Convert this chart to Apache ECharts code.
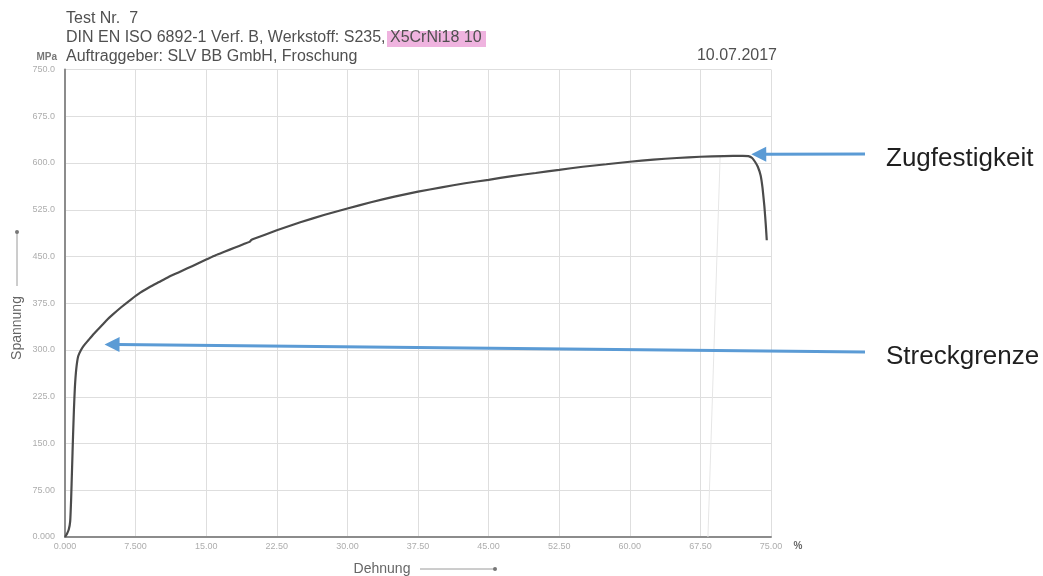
<!DOCTYPE html>
<html>
<head>
<meta charset="utf-8">
<script src="https://cdn.jsdelivr.net/npm/echarts@6/dist/echarts.min.js"></script>
<style>
  html, body { margin: 0; padding: 0; background: #ffffff; }
  #chart { width: 1043px; height: 576px; }
</style>
</head>
<body>
<div id="chart"></div>
<script>
// Zugversuch: Dehnung in %, Spannung in MPa
const strain = [0, 0.2, 0.4, 0.55, 0.65, 0.75, 0.85, 0.95, 1.05, 1.2, 1.4, 1.7, 2.0, 2.5, 3.0, 3.5, 4.0, 4.5, 5.0,
  6.0, 7.0, 8.0, 9.0, 10.0, 11.0, 12.0, 13.0, 14.0, 15.0, 16.0, 17.0, 18.0, 19.0, 19.6, 19.8, 20.0,
  22.5, 25.0, 27.5, 30.0, 32.5, 35.0, 37.5, 40.0, 42.5, 45.0, 47.5, 50.0, 52.5, 55.0, 57.5, 60.0,
  62.5, 65.0, 67.5, 70.0, 72.0, 72.6, 73.0, 73.3, 73.6, 73.9, 74.1, 74.3, 74.45, 74.55];
const stress = [0, 5, 12, 25, 60, 110, 160, 205, 240, 270, 290, 300, 307, 316, 325, 333, 341, 349, 356,
  369, 381, 392, 401, 409, 417, 424, 431, 438, 445, 452, 458, 464, 470, 473.5, 476.5, 478,
  492, 505, 516.5, 527, 537, 546, 554, 561, 567.5, 573, 579, 584, 589, 594, 598, 602,
  605.5, 608, 610, 611, 611.5, 611, 608, 602, 594, 580, 560, 530, 500, 476];

// schwache Entlastungsgerade
const unloadStrain = [68.3, 69.6];
const unloadStress = [0, 612];

// Achsenbeschriftung
const xTickLabels = ['0.000', '7.500', '15.00', '22.50', '30.00', '37.50', '45.00', '52.50', '60.00', '67.50', '75.00'];
const yTickLabels = ['0.000', '75.00', '150.0', '225.0', '300.0', '375.0', '450.0', '525.0', '600.0', '675.0', '750.0'];

// Kennwerte für die Pfeile (Dehnung %, Spannung MPa)
const tensileStrengthPoint = [72.9, 614];
const yieldPoint = [4.2, 309];

const FONT = '"Liberation Sans", Arial, sans-serif';
const chart = echarts.init(document.getElementById('chart'), null, { renderer: 'canvas' });

const curve = strain.map((x, i) => [x, stress[i]]);
const unload = unloadStrain.map((x, i) => [x, unloadStress[i]]);

chart.setOption({
  animation: false,
  backgroundColor: '#ffffff',
  grid: { left: 65, top: 69.5, right: 272, bottom: 39, containLabel: false },
  xAxis: {
    type: 'value', min: 0, max: 75, interval: 7.5,
    axisLine: { show: true, onZero: false, lineStyle: { color: '#8c8c8c', width: 2 } },
    axisTick: { show: false },
    splitLine: { show: true, lineStyle: { color: '#dedede', width: 1 } },
    axisLabel: {
      margin: 5, color: '#adadad', fontSize: 9, fontFamily: FONT,
      formatter: v => xTickLabels[Math.round(v / 7.5)]
    }
  },
  yAxis: {
    type: 'value', min: 0, max: 750, interval: 75,
    axisLine: { show: true, onZero: false, lineStyle: { color: '#8c8c8c', width: 2 } },
    axisTick: { show: false },
    splitLine: { show: true, lineStyle: { color: '#dedede', width: 1 } },
    axisLabel: {
      margin: 10, color: '#adadad', fontSize: 9, fontFamily: FONT,
      formatter: v => yTickLabels[Math.round(v / 75)]
    }
  },
  series: [
    {
      type: 'line', data: unload, showSymbol: false, silent: true,
      lineStyle: { color: '#e6e6e6', width: 1 }, z: 1
    },
    {
      type: 'line', data: curve, showSymbol: false, smooth: 0.15,
      lineStyle: { color: '#4b4b4b', width: 2.2 }, z: 3
    }
  ]
});

// Pfeil mit Spitze bei (tx, ty), vom Anfangspunkt (sx, sy) aus
function arrow(sx, sy, tx, ty) {
  const dx = tx - sx, dy = ty - sy;
  const len = Math.sqrt(dx * dx + dy * dy);
  const ux = dx / len, uy = dy / len;
  const headLen = 15, headHalf = 7.5;
  const bx = tx - ux * headLen, by = ty - uy * headLen;
  const blue = '#5b9bd5';
  return [
    { type: 'line', shape: { x1: sx, y1: sy, x2: bx + ux * 2, y2: by + uy * 2 },
      style: { stroke: blue, lineWidth: 3 }, z: 10 },
    { type: 'polygon',
      shape: { points: [[tx, ty], [bx - uy * headHalf, by + ux * headHalf], [bx + uy * headHalf, by - ux * headHalf]] },
      style: { fill: blue }, z: 10 }
  ];
}

const tsPx = chart.convertToPixel({ gridIndex: 0 }, tensileStrengthPoint);
const ypPx = chart.convertToPixel({ gridIndex: 0 }, yieldPoint);

const txt = (text, x, y, opts) => Object.assign({
  type: 'text',
  style: Object.assign({ text, x, y, fill: '#505050', font: '16px ' + FONT,
    textAlign: 'left', textVerticalAlign: 'middle' }, opts || {}),
  z: 20
});

chart.setOption({
  graphic: [
    txt('Test Nr.  7', 66, 19),
    { type: 'rect', shape: { x: 387, y: 31, width: 99, height: 16 },
      style: { fill: '#efb3df' }, z: 15 },
    txt('DIN EN ISO 6892-1 Verf. B, Werkstoff: S235, X5CrNi18 10', 66, 38),
    txt('Auftraggeber: SLV BB GmbH, Froschung', 66, 57),
    txt('10.07.2017', 777, 56, { textAlign: 'right' }),
    txt('MPa', 57, 57, { textAlign: 'right', font: 'bold 10px ' + FONT, fill: '#777777' }),
    txt('%', 798, 546, { textAlign: 'center', font: 'bold 10px ' + FONT, fill: '#666666' }),
    // Achsentitel
    txt('Dehnung', 382, 569, { textAlign: 'center', font: '14px ' + FONT, fill: '#666666' }),
    { type: 'line', shape: { x1: 420, y1: 569, x2: 495, y2: 569 }, style: { stroke: '#9a9a9a', lineWidth: 1 }, z: 20 },
    { type: 'circle', shape: { cx: 495, cy: 569, r: 2 }, style: { fill: '#777777' }, z: 20 },
    { type: 'text', x: 17, y: 328, rotation: Math.PI / 2,
      style: { text: 'Spannung', x: 0, y: 0, fill: '#666666', font: '14px ' + FONT,
        textAlign: 'center', textVerticalAlign: 'middle' }, z: 20 },
    { type: 'line', shape: { x1: 17, y1: 286, x2: 17, y2: 232 }, style: { stroke: '#9a9a9a', lineWidth: 1 }, z: 20 },
    { type: 'circle', shape: { cx: 17, cy: 232, r: 2 }, style: { fill: '#777777' }, z: 20 },
    // Beschriftungen
    ...arrow(865, 154, tsPx[0], tsPx[1]),
    ...arrow(865, 352, ypPx[0], ypPx[1]),
    txt('Zugfestigkeit', 886, 159, { font: '26px ' + FONT, fill: '#1f1f1f' }),
    txt('Streckgrenze', 886, 357, { font: '26px ' + FONT, fill: '#1f1f1f' })
  ]
});
</script>
</body>
</html>
